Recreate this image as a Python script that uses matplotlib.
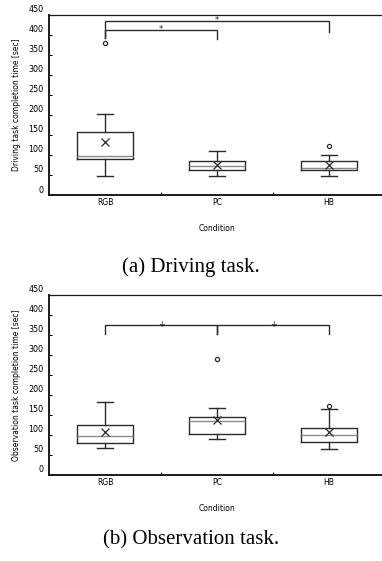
import numpy as np
import matplotlib
matplotlib.use('Agg')
import matplotlib.pyplot as plt
import matplotlib.transforms as mtransforms

# ── Data ─────────────────────────────────────────────────────────────
conditions = ['RGB', 'PC', 'HB']

drive_whislo = [48, 48, 48]
drive_q1     = [91, 62, 62]
drive_med    = [98, 72, 67]
drive_q3     = [158, 86, 86]
drive_whishi = [202, 110, 101]
drive_mean   = [133, 75, 74]
drive_fliers = [[380], [], [123]]

obs_whislo = [67, 89, 65]
obs_q1     = [79, 102, 83]
obs_med    = [97, 136, 101]
obs_q3     = [126, 146, 118]
obs_whishi = [181, 166, 165]
obs_mean   = [107, 137, 107]
obs_fliers = [[], [290], [171]]

# significance brackets: (left idx, right idx, bar height, left drop, right drop, mark)
drive_sig = [(0, 1, 413, 392, 389, '*'), (0, 2, 434, 392, 407, '*')]
obs_sig   = [(0, 1, 374, 351, 351, '+'), (1, 2, 374, 351, 351, '+')]

yticks = np.arange(0, 451, 50)

EDGE = '#2b2b2b'
MED = '#8a8a8a'
W, H = 382, 561


def stats(whislo, q1, med, q3, whishi, mean, fliers):
    return [dict(whislo=a, q1=b, med=c, q3=d, whishi=e, mean=f, fliers=g, label=lab)
            for a, b, c, d, e, f, g, lab in zip(whislo, q1, med, q3, whishi, mean, fliers, conditions)]


def panel(ax, st, sig, ylabel):
    pos = np.arange(len(conditions)) + 0.5
    ax.bxp(st, positions=pos, widths=0.5, showmeans=True, patch_artist=False,
           boxprops=dict(color=EDGE, linewidth=1.0),
           medianprops=dict(color=MED, linewidth=1.0),
           whiskerprops=dict(color=EDGE, linewidth=1.0),
           capprops=dict(color=EDGE, linewidth=1.0),
           capwidths=0.15,
           meanprops=dict(marker='x', markeredgecolor=EDGE, markersize=6, markeredgewidth=0.9),
           flierprops=dict(marker='o', markerfacecolor='white', markeredgecolor=EDGE,
                           markersize=3, markeredgewidth=0.9))

    for i, j, y, dl, dr, mark in sig:
        xi, xj = pos[i], pos[j]
        ax.plot([xi, xi, xj, xj], [dl, y, y, dr], color=EDGE, linewidth=1.0,
                solid_joinstyle='miter')
        ax.text((xi + xj) / 2, y + 1, mark, ha='center', va='center',
                fontsize=6 if mark == '*' else 5.5, color=EDGE)

    ax.set_xlim(0, 3)
    ax.set_ylim(0, 450)
    ax.set_yticks(yticks)
    ax.set_xticks([1, 2])
    ax.set_xticklabels([])
    ax.set_xticks(pos, minor=True)
    ax.set_xticklabels(conditions, minor=True, fontsize=5.5)
    ax.tick_params(axis='x', which='major', direction='in', length=2, width=0.8)
    ax.tick_params(axis='x', which='minor', length=0, pad=2.5)
    ax.tick_params(axis='y', direction='in', length=2, width=0.8, labelsize=5.8, pad=4)
    # the original tick labels sit a little above their ticks
    off = mtransforms.ScaledTranslation(0, 6 / 100, ax.figure.dpi_scale_trans)
    for lab in ax.get_yticklabels():
        lab.set_transform(lab.get_transform() + off)

    ax.spines['right'].set_visible(False)
    ax.spines['top'].set_linewidth(0.9)
    ax.spines['left'].set_linewidth(1.4)
    ax.spines['bottom'].set_linewidth(1.4)
    for s in ax.spines.values():
        s.set_color('#1a1a1a')

    ax.set_ylabel(ylabel, fontsize=5.5, labelpad=5)
    ax.set_xlabel('Condition', fontsize=5.5, labelpad=12)


fig = plt.figure(figsize=(W / 100, H / 100), dpi=100)
ax1 = fig.add_axes([49 / W, 1 - 195 / H, 336 / W, 180.3 / H])
ax2 = fig.add_axes([49 / W, 1 - 475 / H, 336 / W, 180.3 / H])

panel(ax1, stats(drive_whislo, drive_q1, drive_med, drive_q3, drive_whishi, drive_mean, drive_fliers),
      drive_sig, 'Driving task completion time [sec]')
panel(ax2, stats(obs_whislo, obs_q1, obs_med, obs_q3, obs_whishi, obs_mean, obs_fliers),
      obs_sig, 'Observation task completion time [sec]')

fig.text(0.5, 1 - 267 / H, '(a) Driving task.', ha='center', va='center',
         family='Liberation Serif', fontsize=15)
fig.text(0.5, 1 - 540 / H, '(b) Observation task.', ha='center', va='center',
         family='Liberation Serif', fontsize=15)

fig.savefig('out.png', dpi=100)
